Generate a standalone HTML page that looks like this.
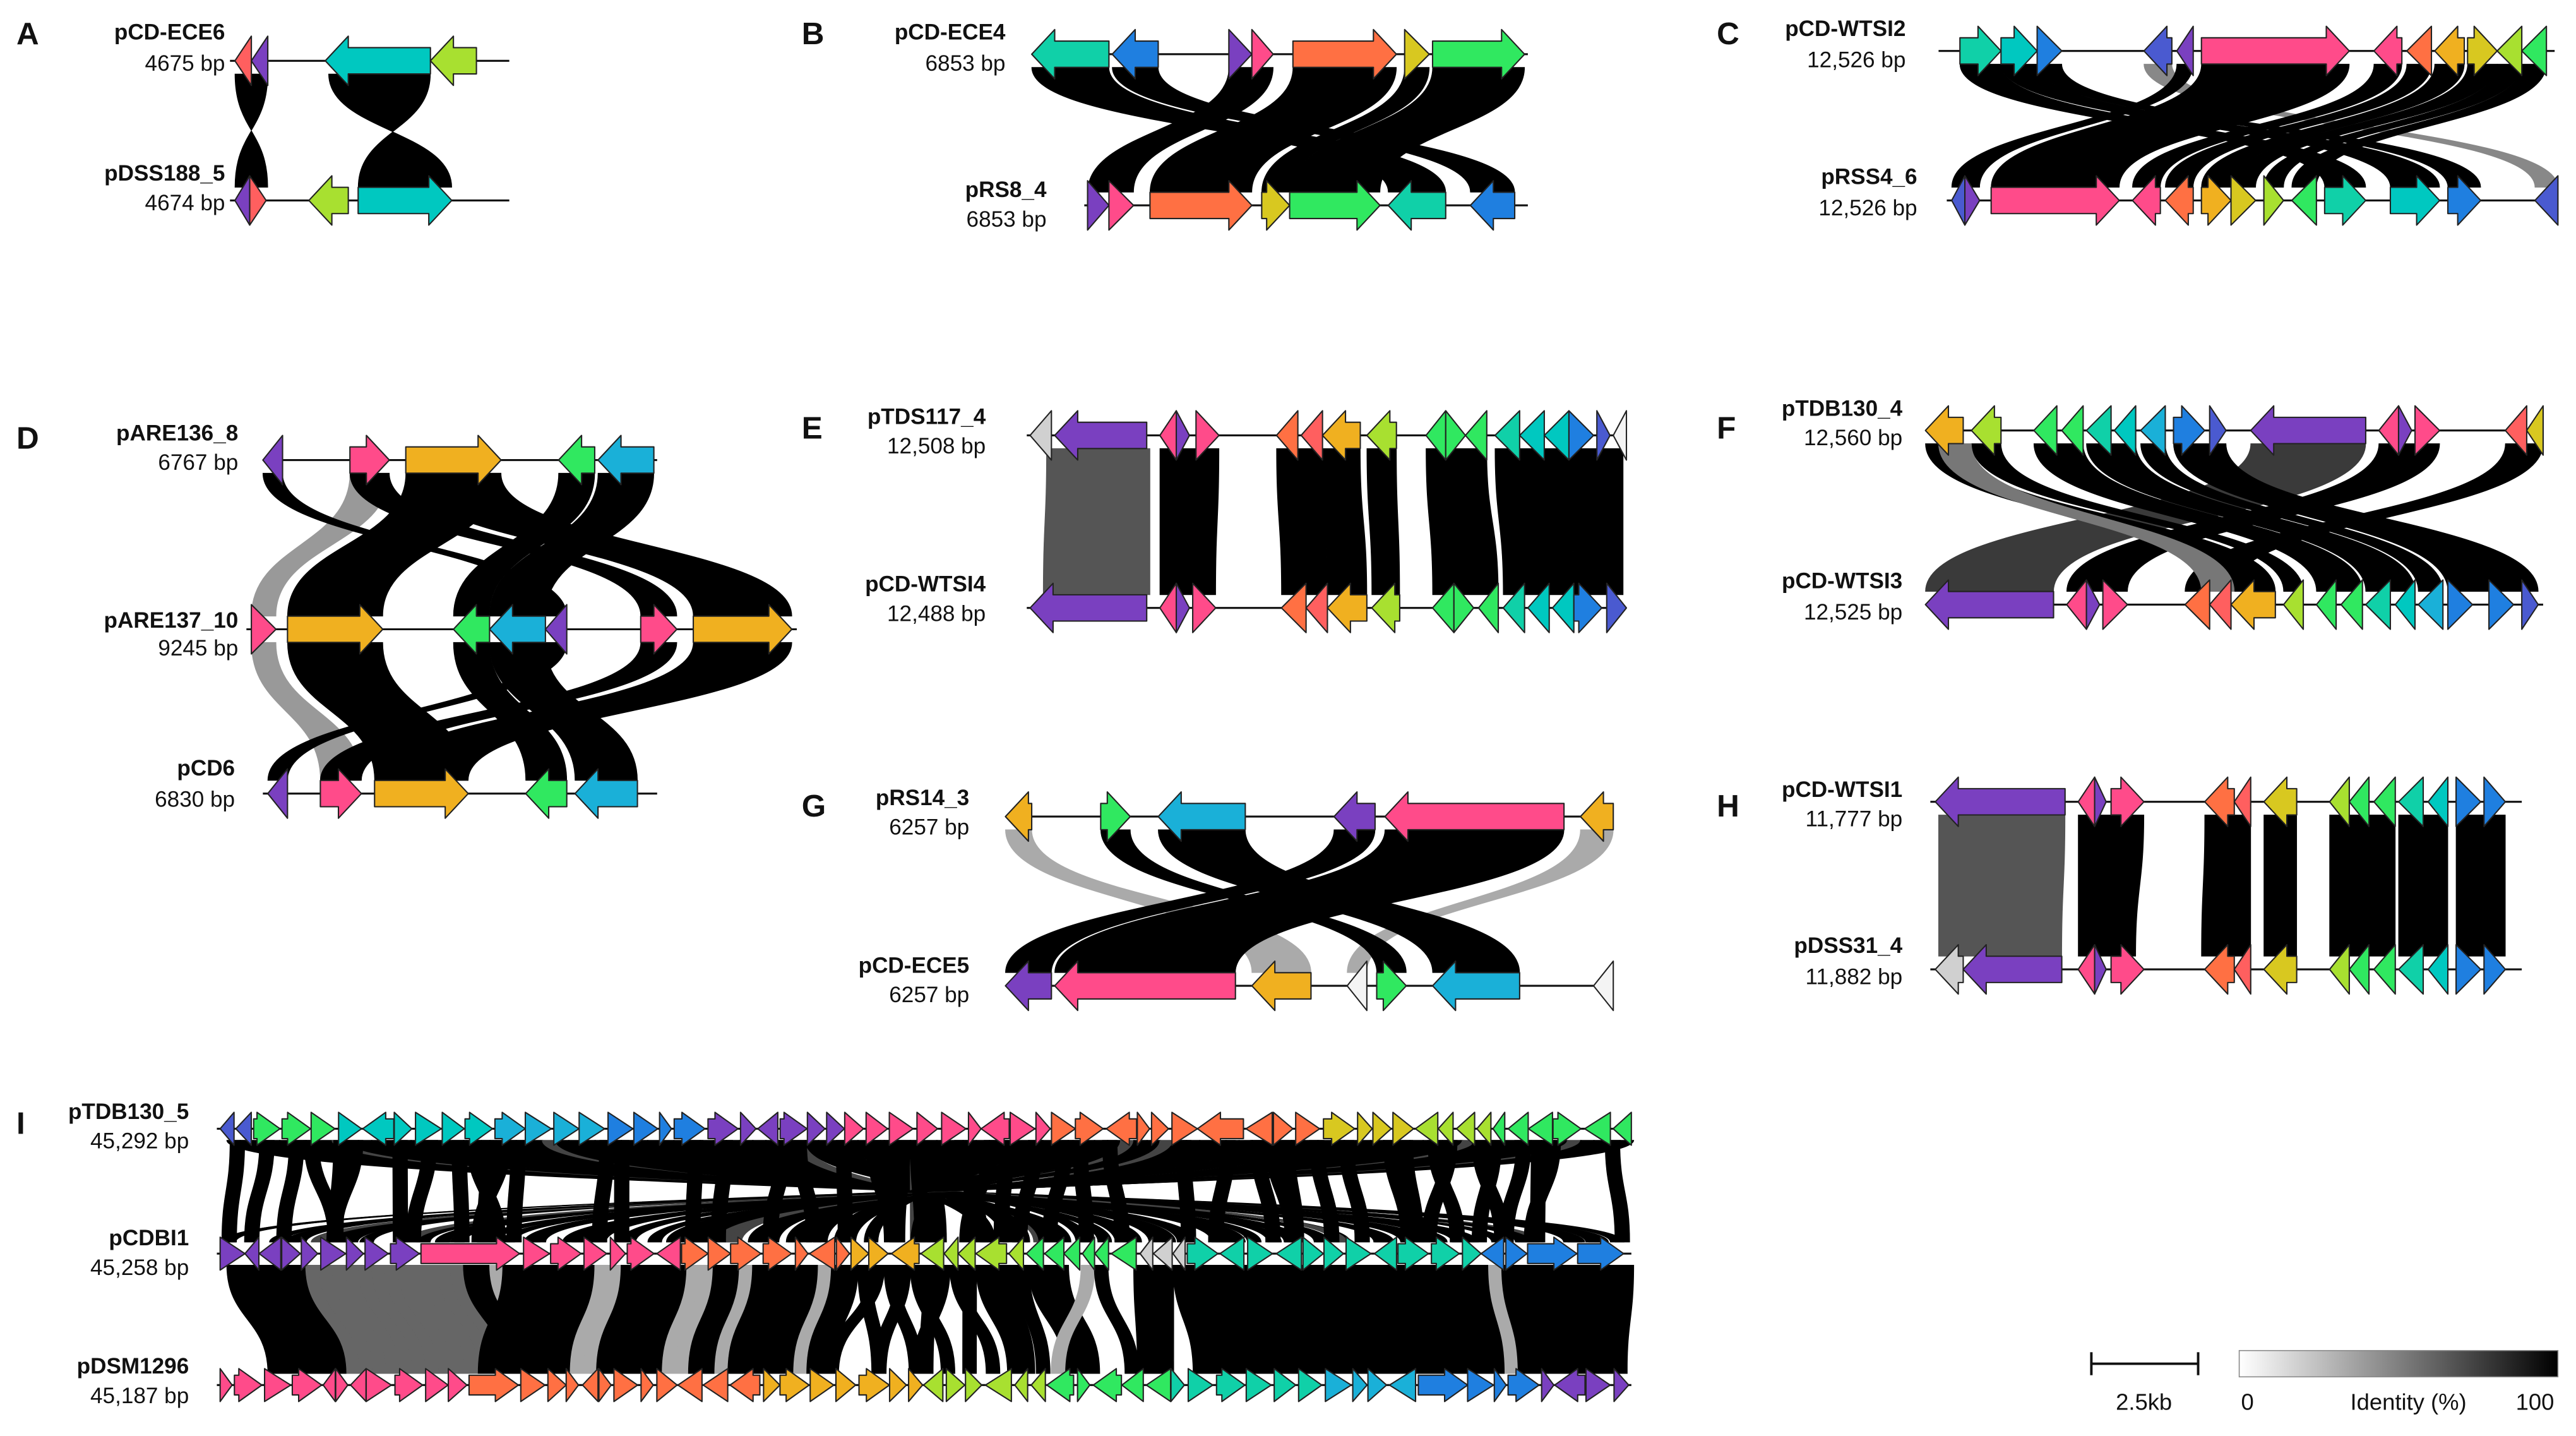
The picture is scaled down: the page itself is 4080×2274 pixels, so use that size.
<!DOCTYPE html>
<html><head><meta charset="utf-8">
<style>
html,body{margin:0;padding:0;background:#fff;}
svg{display:block;}
text{font-family:"Liberation Sans",sans-serif;fill:#111;}
.n{font-weight:bold;font-size:13.5px;text-anchor:end;}
.b{font-size:13.5px;text-anchor:end;}
.L{font-weight:bold;font-size:19px;}
</style></head>
<body>
<svg id="s" width="4080" height="2274" viewBox="0 0 1568 874" preserveAspectRatio="none" xmlns="http://www.w3.org/2000/svg">
<defs><linearGradient id="gr" x1="0" x2="1" y1="0" y2="0"><stop offset="0" stop-color="#fff"/><stop offset="1" stop-color="#000"/></linearGradient></defs>
<g id="rib"></g><g id="lin"></g><g id="gen"></g>
<text class="L" x="10" y="27">A</text>
<text class="n" x="137" y="24">pCD-ECE6</text><text class="b" x="137" y="43">4675 bp</text>
<text class="n" x="137" y="110">pDSS188_5</text><text class="b" x="137" y="128">4674 bp</text>
<text class="L" x="488" y="27">B</text>
<text class="n" x="612" y="24">pCD-ECE4</text><text class="b" x="612" y="43">6853 bp</text>
<text class="n" x="637" y="120">pRS8_4</text><text class="b" x="637" y="138">6853 bp</text>
<text class="L" x="1045" y="27">C</text>
<text class="n" x="1160" y="22">pCD-WTSI2</text><text class="b" x="1160" y="41">12,526 bp</text>
<text class="n" x="1167" y="112">pRSS4_6</text><text class="b" x="1167" y="131">12,526 bp</text>
<text class="L" x="10" y="273">D</text>
<text class="n" x="145" y="268">pARE136_8</text><text class="b" x="145" y="286">6767 bp</text>
<text class="n" x="145" y="382">pARE137_10</text><text class="b" x="145" y="399">9245 bp</text>
<text class="n" x="143" y="472">pCD6</text><text class="b" x="143" y="491">6830 bp</text>
<text class="L" x="488" y="267">E</text>
<text class="n" x="600" y="258">pTDS117_4</text><text class="b" x="600" y="276">12,508 bp</text>
<text class="n" x="600" y="360">pCD-WTSI4</text><text class="b" x="600" y="378">12,488 bp</text>
<text class="L" x="1045" y="267">F</text>
<text class="n" x="1158" y="253">pTDB130_4</text><text class="b" x="1158" y="271">12,560 bp</text>
<text class="n" x="1158" y="358">pCD-WTSI3</text><text class="b" x="1158" y="377">12,525 bp</text>
<text class="L" x="488" y="497">G</text>
<text class="n" x="590" y="490">pRS14_3</text><text class="b" x="590" y="508">6257 bp</text>
<text class="n" x="590" y="592">pCD-ECE5</text><text class="b" x="590" y="610">6257 bp</text>
<text class="L" x="1045" y="497">H</text>
<text class="n" x="1158" y="485">pCD-WTSI1</text><text class="b" x="1158" y="503">11,777 bp</text>
<text class="n" x="1158" y="580">pDSS31_4</text><text class="b" x="1158" y="599">11,882 bp</text>
<text class="L" x="10" y="690">I</text>
<text class="n" x="115" y="681">pTDB130_5</text><text class="b" x="115" y="699">45,292 bp</text>
<text class="n" x="115" y="758">pCDBI1</text><text class="b" x="115" y="776">45,258 bp</text>
<text class="n" x="115" y="836">pDSM1296</text><text class="b" x="115" y="854">45,187 bp</text>
<line x1="1273" y1="830" x2="1338" y2="830" stroke="#111" stroke-width="1.5"/>
<line x1="1273" y1="823" x2="1273" y2="837" stroke="#111" stroke-width="1.5"/>
<line x1="1338" y1="823" x2="1338" y2="837" stroke="#111" stroke-width="1.5"/>
<text x="1305" y="858" style="font-size:14px;text-anchor:middle">2.5kb</text>
<rect x="1363" y="822" width="194" height="16" fill="url(#gr)" stroke="#888" stroke-width="0.6"/>
<text x="1368" y="858" style="font-size:14px;text-anchor:middle">0</text>
<text x="1466" y="858" style="font-size:14px;text-anchor:middle">Identity (%)</text>
<text x="1543" y="858" style="font-size:14px;text-anchor:middle">100</text>
</svg>
<script>
const NS='http://www.w3.org/2000/svg';
const G={rib:document.getElementById('rib'),lin:document.getElementById('lin'),gen:document.getElementById('gen')};
function el(g,t,a){const e=document.createElementNS(NS,t);for(const k in a)e.setAttribute(k,a[k]);G[g].appendChild(e);return e;}
const C={pu:'#7a40c0',pk:'#ff4b8a',rd:'#ff5f5f',or:'#ff7043',yo:'#f0b020',ye:'#d8c820',li:'#a8e030',gn:'#30e860',tl:'#10d0a8',cy:'#1ab0d8',bl:'#1f7fe0',in:'#4a5ad0',gy:'#d0d0d0',wh:'#f4f4f4',tq:'#00c8c0'};
function gene(x1,x2,y,d,c,bh,hh){bh=bh||8;hh=hh||15;const L=x2-x1;let hl=Math.min(14,L);if(L<16)hl=L;let p;
 if(d>0){p=`M${x1},${y-bh}L${x2-hl},${y-bh}L${x2-hl},${y-hh}L${x2},${y}L${x2-hl},${y+hh}L${x2-hl},${y+bh}L${x1},${y+bh}Z`;}
 else{p=`M${x2},${y-bh}L${x1+hl},${y-bh}L${x1+hl},${y-hh}L${x1},${y}L${x1+hl},${y+hh}L${x1+hl},${y+bh}L${x2},${y+bh}Z`;}
 el('gen','path',{d:p,fill:C[c]||c,stroke:'#222','stroke-width':0.8,'stroke-linejoin':'round'});}
function line(x1,x2,y){el('lin','line',{x1:x1,x2:x2,y1:y,y2:y,stroke:'#111','stroke-width':1.2});}
function rib(a1,a2,y1,b1,b2,y2,f){const ym=(y1+y2)/2;
 el('rib','path',{d:`M${a1},${y1}C${a1},${ym} ${b1},${ym} ${b1},${y2}L${b2},${y2}C${b2},${ym} ${a2},${ym} ${a2},${y1}Z`,fill:f||'#000',stroke:f||'#000','stroke-width':0.3});}
function tr(y,l){l.forEach(g=>gene(g[0],g[1],y,g[2],g[3]));}
// A
line(140,310,37);line(140,310,122);
rib(143,163,45,163,143,114);rib(200,262,45,275,218,114);
tr(37,[[143,153,-1,'rd'],[153,163,-1,'pu'],[198,262,-1,'tq'],[262,290,-1,'li']]);
tr(122,[[143,152,-1,'pu'],[152,162,1,'rd'],[188,212,-1,'li'],[218,275,1,'tq']]);
// B
line(630,930,33);line(660,930,125);
[[628,675,845,880],[677,705,895,922],[748,775,662,690],[787,850,700,762],[855,870,768,785],[872,928,785,840]].forEach(r=>rib(r[0],r[1],41,r[2],r[3],117));
tr(33,[[628,675,-1,'tl'],[677,705,-1,'bl'],[748,762,1,'pu'],[762,775,1,'pk'],[787,850,1,'or'],[855,870,1,'ye'],[872,928,1,'gn']]);
tr(125,[[662,675,1,'pu'],[675,690,1,'pk'],[700,762,1,'or'],[768,785,1,'ye'],[785,840,1,'gn'],[845,880,-1,'tl'],[895,922,-1,'bl']]);
// C
line(1180,1555,31);line(1185,1557,122);
rib(1305,1322,39,1543,1557,114,'#888');
[[1193,1218,1415,1440],[1218,1240,1455,1485],[1240,1255,1490,1510],[1325,1335,1188,1205],[1340,1430,1212,1290],[1445,1462,1298,1315],[1465,1480,1318,1335],[1482,1500,1340,1358],[1502,1520,1358,1373],[1520,1535,1378,1390],[1535,1550,1395,1410]].forEach(r=>rib(r[0],r[1],39,r[2],r[3],114));
tr(31,[[1193,1218,1,'tl'],[1218,1240,1,'tq'],[1240,1255,1,'bl'],[1305,1322,-1,'in'],[1325,1335,-1,'pu'],[1340,1430,1,'pk'],[1445,1462,-1,'pk'],[1465,1480,-1,'or'],[1482,1500,-1,'yo'],[1502,1520,1,'ye'],[1520,1535,-1,'li'],[1535,1550,-1,'gn']]);
tr(122,[[1188,1196,-1,'in'],[1196,1205,1,'pu'],[1212,1290,1,'pk'],[1298,1315,-1,'pk'],[1318,1335,-1,'or'],[1340,1358,1,'yo'],[1358,1373,1,'ye'],[1378,1390,1,'li'],[1395,1410,-1,'gn'],[1415,1440,1,'tl'],[1455,1485,1,'tq'],[1490,1510,1,'bl'],[1543,1557,-1,'in']]);
// D
line(160,400,280);line(150,485,383);line(160,400,483);
rib(213,237,288,153,168,375,'#999');
[[160,172,332,345],[213,237,390,412],[247,305,175,233],[247,305,422,482],[340,362,276,298],[364,398,298,332]].forEach(r=>rib(r[0],r[1],288,r[2],r[3],375));
rib(153,168,391,195,220,475,'#999');
[[175,233,228,285],[276,298,320,345],[298,332,350,388],[332,345,163,175],[422,482,228,285],[390,412,195,220]].forEach(r=>rib(r[0],r[1],391,r[2],r[3],475));
tr(280,[[160,172,-1,'pu'],[213,237,1,'pk'],[247,305,1,'yo'],[340,362,-1,'gn'],[364,398,-1,'cy']]);
tr(383,[[153,168,1,'pk'],[175,233,1,'yo'],[276,298,-1,'gn'],[298,332,-1,'cy'],[332,345,-1,'pu'],[390,412,1,'pk'],[422,482,1,'yo']]);
tr(483,[[163,175,-1,'pu'],[195,220,1,'pk'],[228,285,1,'yo'],[320,345,-1,'gn'],[350,388,-1,'cy']]);
// E
line(625,990,265);line(625,990,370);
const Et=[[627,640,-1,'gy'],[642,698,-1,'pu'],[706,716,-1,'pk'],[716,724,1,'pu'],[728,742,1,'pk'],[777,790,-1,'or'],[792,805,-1,'rd'],[805,828,-1,'yo'],[832,850,-1,'li'],[868,880,-1,'gn'],[880,892,1,'gn'],[892,905,-1,'gn'],[910,925,-1,'tl'],[925,940,-1,'tq'],[940,955,-1,'tq'],[955,970,1,'bl'],[972,980,1,'in'],[982,990,-1,'wh']];
const Eb=[[627,698,-1,'pu'],[706,716,-1,'pk'],[716,724,1,'pu'],[726,740,1,'pk'],[780,795,-1,'or'],[795,808,-1,'rd'],[808,832,-1,'yo'],[835,852,-1,'li'],[872,885,-1,'gn'],[885,897,1,'gn'],[900,912,-1,'gn'],[915,928,-1,'tl'],[930,943,-1,'tq'],[945,958,-1,'tq'],[958,975,1,'bl'],[978,990,1,'in']];
rib(637,700,273,635,700,362,'#555');
[[706,742,706,740],[777,805,780,808],[805,828,808,832],[832,850,835,852],[868,905,872,912],[910,955,915,958],[955,988,958,988]].forEach(r=>rib(r[0],r[1],273,r[2],r[3],362));
tr(265,Et);tr(370,Eb);
// F
line(1172,1548,262);line(1172,1548,368);
rib(1370,1440,270,1172,1250,360,'#3a3a3a');
[[1172,1195,1358,1385],[1200,1218,1390,1402],[1238,1268,1410,1438],[1270,1300,1440,1470],[1303,1318,1472,1487],[1323,1355,1490,1545],[1448,1485,1258,1295],[1525,1548,1330,1358]].forEach(r=>rib(r[0],r[1],270,r[2],r[3],360));
rib(1180,1200,270,1340,1360,360,'#777');
tr(262,[[1172,1195,-1,'yo'],[1200,1218,-1,'li'],[1238,1252,-1,'gn'],[1255,1268,-1,'gn'],[1270,1285,-1,'tl'],[1287,1300,-1,'tq'],[1303,1318,-1,'cy'],[1323,1342,1,'bl'],[1345,1355,1,'in'],[1370,1440,-1,'pu'],[1448,1460,-1,'pk'],[1460,1468,1,'pu'],[1470,1485,1,'pk'],[1525,1538,-1,'rd'],[1538,1548,-1,'ye']]);
tr(368,[[1172,1250,-1,'pu'],[1258,1270,-1,'pk'],[1270,1278,1,'pu'],[1280,1295,1,'pk'],[1330,1345,-1,'or'],[1345,1358,-1,'rd'],[1358,1385,-1,'yo'],[1390,1402,-1,'li'],[1410,1422,-1,'gn'],[1425,1438,-1,'gn'],[1440,1455,-1,'tl'],[1458,1470,-1,'tq'],[1472,1487,-1,'cy'],[1490,1505,1,'bl'],[1515,1530,1,'bl'],[1535,1545,1,'in']]);
// G
line(612,982,497);line(612,982,600);
rib(612,628,505,762,798,592,'#aaa');rib(962,982,505,820,832,592,'#aaa');
[[670,688,838,856],[705,758,872,925],[812,837,612,640],[843,952,642,752]].forEach(r=>rib(r[0],r[1],505,r[2],r[3],592));
tr(497,[[612,628,-1,'yo'],[670,688,1,'gn'],[705,758,-1,'cy'],[812,837,-1,'pu'],[843,952,-1,'pk'],[962,982,-1,'yo']]);
tr(600,[[612,640,-1,'pu'],[642,752,-1,'pk'],[762,798,-1,'yo'],[820,832,-1,'wh'],[838,856,1,'gn'],[872,925,-1,'cy'],[970,982,-1,'wh']]);
// H
line(1175,1535,488);line(1175,1535,590);
rib(1180,1257,496,1180,1255,582,'#555');
[[1265,1305,1265,1300],[1342,1370,1340,1370],[1378,1398,1378,1398],[1418,1458,1418,1458],[1460,1490,1460,1490],[1495,1525,1495,1525]].forEach(r=>rib(r[0],r[1],496,r[2],r[3],582));
const Ht=[[1178,1257,-1,'pu'],[1265,1275,-1,'pk'],[1275,1282,1,'pu'],[1285,1305,1,'pk'],[1342,1360,-1,'or'],[1360,1370,-1,'rd'],[1378,1398,-1,'ye'],[1418,1430,-1,'li'],[1430,1442,-1,'gn'],[1445,1458,-1,'gn'],[1460,1475,-1,'tl'],[1478,1490,-1,'tq'],[1495,1510,1,'bl'],[1512,1525,1,'bl']];
tr(488,Ht);
tr(590,[[1178,1195,-1,'gy'],[1195,1255,-1,'pu']].concat(Ht.slice(1)));
// I
let seed=7;function rnd(){seed=(seed*16807)%2147483647;return seed/2147483647;}
function dense(y,x0,x1,regs,bigs){let x=x0+2;while(x<x1-6){let big=bigs.find(b=>Math.abs(b[0]-x)<6);let w=big?big[1]:7+rnd()*12;if(x+w>x1)w=x1-x;const r=regs.find(r=>x<r[0])||regs[regs.length-1];gene(x,x+w,y,r[2]*(rnd()<0.15?-1:1),r[1],6,10);x+=w+rnd()*2.5;}}
line(132,993,687);line(132,993,763);line(132,993,843);
// ribbons top-mid
for(let p=138;p<988;p+=8){const q=Math.max(135,Math.min(982,1125-p+(rnd()-0.5)*40));rib(p,p+8.5,694,q,q+8.5,756,rnd()<0.1?'#444':'#000');}
for(let p=140;p<985;p+=9){const q=Math.max(135,Math.min(985,p+(rnd()-0.5)*30));if(rnd()<0.5)rib(p,p+9,694,q,q+9,756);}
// mid-bottom
for(let p=138;p<988;p+=8){let off=p<300?25:(p<520?-15:(p<720?(rnd()-0.5)*60:10));const q=Math.max(135,Math.min(982,p+off));const f=(p>185&&p<275)?'#666':(rnd()<0.08?'#aaa':'#000');if(p>640&&p<690&&rnd()<0.5)continue;rib(p,p+8.5,770,q,q+8.5,836,f);}
dense(687,132,993,[[150,'in',-1],[200,'gn',1],[300,'tq',1],[355,'cy',1],[425,'bl',1],[505,'pu',1],[640,'pk',1],[790,'or',1],[850,'ye',1],[900,'li',-1],[993,'gn',-1]],[[362,30],[548,62],[732,28]]);
dense(763,132,993,[[252,'pu',1],[400,'pk',1],[510,'or',1],[560,'yo',1],[620,'li',-1],[680,'gn',-1],[720,'gy',-1],[900,'tl',1],[993,'bl',1]],[[256,60],[925,30],[962,28]]);
dense(843,132,993,[[185,'pk',1],[280,'pk',1],[450,'or',1],[560,'yo',1],[630,'li',-1],[700,'gn',-1],[800,'tl',1],[860,'cy',1],[920,'bl',1],[993,'pu',1]],[[186,62],[282,30],[860,30]]);
</script>
</body></html>
